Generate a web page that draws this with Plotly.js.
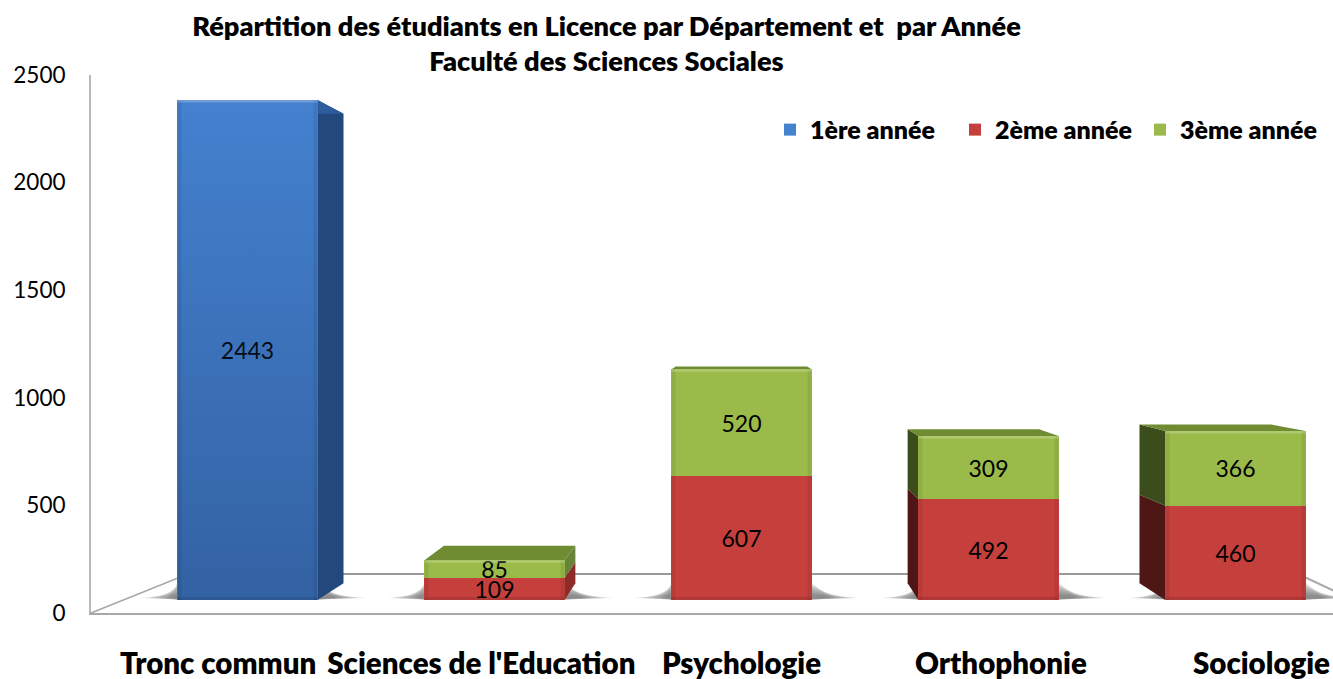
<!DOCTYPE html>
<html>
<head>
<meta charset="utf-8">
<script src="https://cdn.plot.ly/plotly-3.0.1.min.js"></script>
<style>html,body{margin:0;padding:0;background:#fff;overflow:hidden}</style>
</head>
<body>
<div id="chart" style="width:1333px;height:679px"></div>
<script>
// ---- data ----
const categories = ["Tronc commun", "Sciences de l'Education", "Psychologie", "Orthophonie", "Sociologie"];
const barPositions = [0, 1, 2, 3, 4];
const labelPositions = [-0.119, 0.947, 2, 3.05, 4.105];
const annee1 = [2443, null, null, null, null];
const annee2 = [null, 109, 607, 492, 460];
const annee3 = [null, 85, 520, 309, 366];
const yTicks = [0, 500, 1000, 1500, 2000, 2500];
const titleText = "Répartition des étudiants en Licence par Département et  par Année<br>Faculté des Sciences Sociales";

// ---- scales / styling ----
const FONT = "Lato, Carlito, Calibri, sans-serif";
const W = 1333, H = 679, mL = 91, mT = 75, mB = 66;
const pxX = 247, pxY = 0.2047, x0px = 247.5, y0px = 600;
const xRange = [(mL - x0px) / pxX, (W - x0px) / pxX];
const barRange = [-(H - mB - y0px) / pxY, (y0px - mT) / pxY];
const barWidth = 0.567;
const vanish = { x: 2, y: 1343 }, depth = 0.0613;
const dX = px => px / pxX, dY = px => px / pxY;
const back = (x, y) => [x + depth * (vanish.x - x), y + depth * (vanish.y - y)];
const poly = pts => "M" + pts.map(p => p[0] + "," + p[1]).join(" L") + " Z";
const face = (pts, color, layer) => ({ type: "path", xref: "x", yref: "y2", path: poly(pts), fillcolor: color, line: { width: 0 }, layer: layer || "below" });

const palette = {
  blue:  { front: "#4481cf", right: "#23487c", left: "#1c3a64", top: "#2e5c9e" },
  red:   { front: "#c5403d", right: "#8c2b28", left: "#4e1716", top: "#8c2b28" },
  green: { front: "#9abb4a", right: "#68843a", left: "#3c4d1c", top: "#6f8c32" }
};

const shapes = [];
const paperLine = (x1, y1, x2, y2, color, w) => ({
  type: "line", xref: "paper", yref: "paper", layer: "below",
  x0: (x1 - mL) / (W - mL), x1: (x2 - mL) / (W - mL),
  y0: (H - mB - y1) / (H - mB - mT), y1: (H - mB - y2) / (H - mB - mT),
  line: { color: color, width: w }
});
shapes.push(paperLine(91, 613, 188, 574, "#a8a8a8", 1.5));
shapes.push(paperLine(188, 574, 1298, 574, "#999999", 2));
shapes.push(paperLine(1298, 574, 1345, 596, "#a8a8a8", 2));

barPositions.forEach(i => {
  const segs = [];
  let base = 0;
  [[annee1, "blue"], [annee2, "red"], [annee3, "green"]].forEach(([arr, c]) => {
    if (arr[i] != null) { segs.push({ a: base, b: base + arr[i], c: c }); base += arr[i]; }
  });
  const xl = i - barWidth / 2, xr = i + barWidth / 2;
  // soft floor shadow, nested layers that get darker towards the bar
  [38, 33, 28, 23, 18, 14, 10, 6].forEach(m => {
    const h = 18 * (1 - m / 46);
    const yTip = dY(2), yTop = dY(2 + h);
    shapes.push(face([
      [xl - dX(m), yTip], [xl, yTop], [xr, yTop],
      [xr + dX(m + 12), yTip], [xr, dY(0.5)], [xl, dY(0.5)]
    ], "rgba(40,40,40,0.085)"));
  });
  const edge = i < 2 ? xr : (i > 2 ? xl : null);
  segs.forEach(s => {
    if (edge !== null) {
      const p = palette[s.c];
      shapes.push(face([[edge, s.a], [edge, s.b], back(edge, s.b), back(edge, s.a)], i < 2 ? p.right : p.left));
    }
  });
  const t = segs[segs.length - 1];
  shapes.push(face([[xl, t.b], [xr, t.b], back(xr, t.b), back(xl, t.b)], palette[t.c].top));
  segs.forEach(s => {
    const edgeW = dX(4);
    shapes.push(face([[xl, s.a], [xl, s.b], [xl + edgeW, s.b], [xl + edgeW, s.a]], "rgba(0,0,0,0.07)", "above"));
    shapes.push(face([[xr, s.a], [xr, s.b], [xr - edgeW, s.b], [xr - edgeW, s.a]], "rgba(0,0,0,0.07)", "above"));
  });
  shapes.push(face([[xl, t.b], [xr, t.b], [xr, t.b - dY(2.5)], [xl, t.b - dY(2.5)]], "rgba(255,255,255,0.22)", "above"));
  shapes.push(face([[xl, 0], [xr, 0], [xr, dY(3)], [xl, dY(3)]], "rgba(0,0,0,0.1)", "above"));
});

const barTrace = (name, values, color) => ({
  type: "bar", name: name, x: barPositions, y: values, yaxis: "y2", width: barWidth,
  marker: { color: color, line: { width: 0 } },
  text: values.map(v => v == null ? "" : String(v)), textposition: "inside", insidetextanchor: "middle",
  textangle: 0, constraintext: "none", textfont: { family: FONT, size: 23, color: "#000" },
  hoverinfo: "x+y+name"
});

const traces = [
  { // keeps the visible value axis on the page
    type: "scatter", mode: "none", showlegend: false, hoverinfo: "skip",
    x: yTicks.map(() => 0), y: yTicks
  },
  barTrace("1ère année", annee1, palette.blue.front),
  barTrace("2ème année", annee2, palette.red.front),
  barTrace("3ème année", annee3, palette.green.front),
  { // darkening gradient over the tall blue front
    type: "scatter", mode: "none", showlegend: false, hoverinfo: "skip", yaxis: "y2",
    x: [0 - barWidth / 2, 0 + barWidth / 2, 0 + barWidth / 2, 0 - barWidth / 2],
    y: [0, 0, annee1[0], annee1[0]], fill: "toself",
    fillgradient: { type: "vertical", colorscale: [[0, "rgba(30,60,110,0.45)"], [1, "rgba(30,60,110,0)"]] }
  }
];

const layout = {
  width: W, height: H, showlegend: true,
  margin: { l: mL, r: 0, t: mT, b: mB, pad: 0 },
  paper_bgcolor: "#fff", plot_bgcolor: "#fff",
  barmode: "stack",
  font: { family: FONT, color: "#000" },
  title: { text: titleText, font: { family: FONT, size: 27.2, weight: 800, color: "#000" },
           x: 0.455, xanchor: "center", y: 0.947, yanchor: "top", yref: "container" },
  xaxis: {
    range: xRange, tickmode: "array", tickvals: labelPositions, ticktext: categories,
    tickfont: { family: FONT, size: 29.5, weight: 800, color: "#000" }, ticks: "", ticklabelstandoff: 24,
    showgrid: false, zeroline: false, showline: true, linecolor: "#a8a8a8", linewidth: 2, fixedrange: true
  },
  yaxis: {
    range: [0, 2500], tickmode: "array", tickvals: yTicks, ticktext: yTicks.map(String),
    tickfont: { family: FONT, size: 22.5, color: "#000" }, ticks: "", ticklabelstandoff: 19,
    showgrid: false, zeroline: false, showline: true, linecolor: "#b8b8b8", linewidth: 2, fixedrange: true
  },
  yaxis2: { range: barRange, overlaying: "y", anchor: "x", visible: false, fixedrange: true },
  legend: {
    orientation: "h", x: 0.5467, xanchor: "left", y: 0.898, yanchor: "middle",
    font: { family: FONT, size: 25, weight: 800, color: "#000" },
    entrywidth: 140, entrywidthmode: "pixels",
    bgcolor: "rgba(0,0,0,0)", traceorder: "normal"
  },
  shapes: shapes
};
Plotly.newPlot("chart", traces, layout, { displayModeBar: false, responsive: false });
</script>
</body>
</html>
